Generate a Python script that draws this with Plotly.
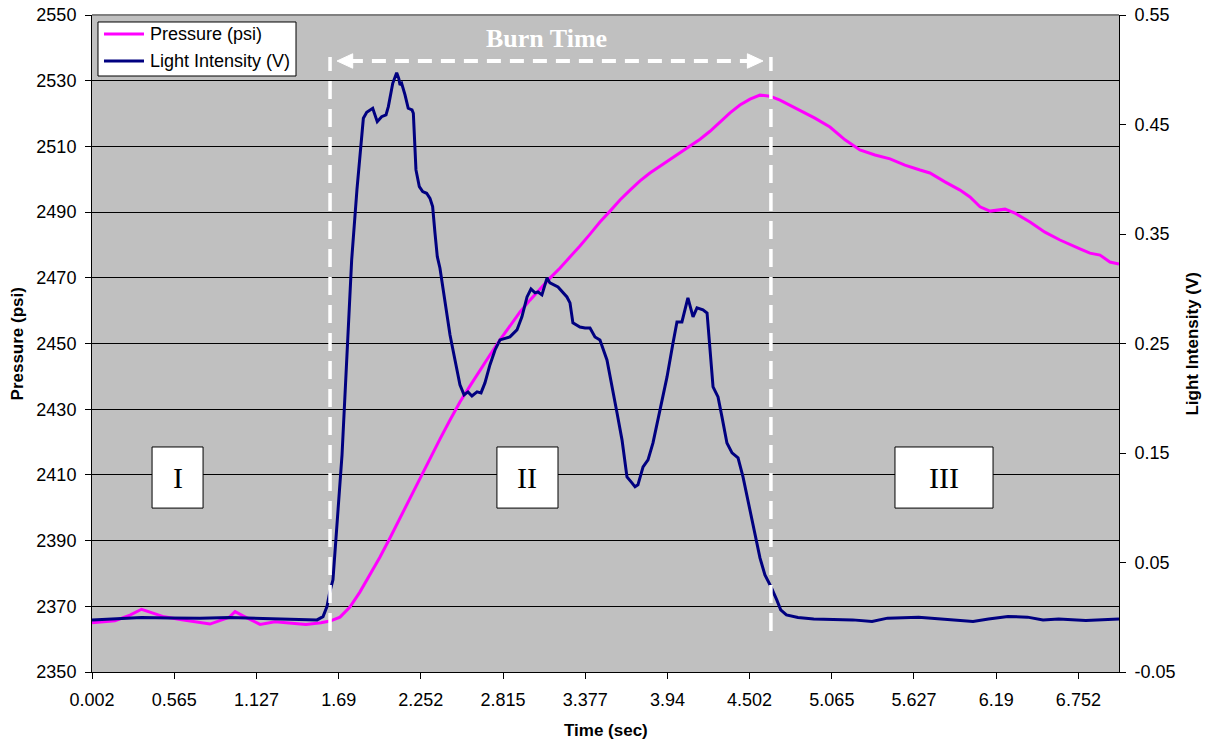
import plotly.graph_objects as go

# ---- chamber pressure (left axis, psi) ----
time_p = [0.002, 0.159, 0.262, 0.341, 0.419, 0.495, 0.628, 0.809, 0.943, 0.981,
          1.049, 1.152, 1.254, 1.361, 1.466, 1.569, 1.631, 1.699, 1.767, 1.836,
          1.904, 1.973, 2.041, 2.110, 2.178, 2.246, 2.315, 2.383, 2.452, 2.520,
          2.589, 2.657, 2.725, 2.794, 2.862, 2.931, 2.999, 3.068, 3.136, 3.205,
          3.273, 3.341, 3.410, 3.478, 3.547, 3.615, 3.684, 3.752, 3.820, 3.889,
          3.957, 4.026, 4.094, 4.163, 4.231, 4.299, 4.368, 4.436, 4.505, 4.573,
          4.642, 4.710, 4.778, 4.847, 4.949, 5.052, 5.155, 5.257, 5.360, 5.463,
          5.565, 5.668, 5.736, 5.839, 5.942, 6.010, 6.079, 6.147, 6.250, 6.318,
          6.421, 6.523, 6.626, 6.763, 6.831, 6.900, 6.968, 7.030]
pressure = [2365.0, 2365.6, 2367.3, 2369.1, 2367.9, 2366.8, 2365.8, 2364.6, 2366.7, 2368.4,
            2366.8, 2364.5, 2365.3, 2364.8, 2364.5, 2365.0, 2365.5, 2366.7, 2369.8, 2374.4,
            2379.5, 2385.0, 2390.8, 2396.9, 2403.0, 2409.1, 2415.1, 2420.9, 2426.7, 2432.2,
            2437.1, 2441.9, 2446.5, 2451.1, 2455.3, 2459.6, 2463.2, 2466.6, 2469.9, 2473.0,
            2476.3, 2479.7, 2483.3, 2487.0, 2490.3, 2493.7, 2496.7, 2499.5, 2501.9, 2504.0,
            2505.9, 2508.0, 2510.1, 2512.2, 2514.6, 2517.4, 2520.2, 2522.6, 2524.4, 2525.6,
            2525.3, 2524.1, 2522.6, 2521.1, 2518.6, 2515.9, 2512.0, 2508.9, 2507.4, 2506.2,
            2504.3, 2502.8, 2501.9, 2499.2, 2496.7, 2494.6, 2491.6, 2490.3, 2490.9, 2489.7,
            2487.0, 2483.9, 2481.5, 2478.8, 2477.5, 2476.9, 2474.8, 2474.2]

# ---- photodiode light intensity (right axis, V) ----
time_l = [0.002, 0.194, 0.341, 0.536, 0.741, 0.943, 1.083, 1.179, 1.357, 1.542,
          1.583, 1.610, 1.628, 1.651, 1.713, 1.779, 1.815, 1.859, 1.882, 1.923,
          1.954, 1.984, 2.014, 2.030, 2.060, 2.087, 2.101, 2.110, 2.121, 2.144,
          2.166, 2.192, 2.201, 2.219, 2.242, 2.265, 2.292, 2.315, 2.333, 2.349,
          2.365, 2.383, 2.418, 2.452, 2.486, 2.520, 2.548, 2.575, 2.602, 2.637,
          2.664, 2.691, 2.725, 2.760, 2.794, 2.862, 2.910, 2.944, 2.979, 3.006,
          3.034, 3.054, 3.081, 3.116, 3.136, 3.191, 3.252, 3.273, 3.293, 3.341,
          3.376, 3.410, 3.444, 3.478, 3.526, 3.567, 3.595, 3.629, 3.663, 3.697,
          3.718, 3.738, 3.773, 3.807, 3.841, 3.889, 3.937, 3.978, 4.005, 4.039,
          4.060, 4.080, 4.115, 4.142, 4.183, 4.211, 4.252, 4.286, 4.313, 4.347,
          4.382, 4.423, 4.457, 4.491, 4.518, 4.546, 4.573, 4.607, 4.648, 4.688,
          4.715, 4.754, 4.833, 4.941, 5.127, 5.207, 5.340, 5.446, 5.659, 5.819,
          6.031, 6.137, 6.270, 6.404, 6.510, 6.617, 6.803, 7.030]
light = [-0.0024, -0.0015, -0.0003, -0.0006, -0.0010, -0.0003, -0.0010, -0.0017, -0.0019, -0.0024,
         0.0006, 0.0098, 0.0223, 0.0342, 0.1483, 0.3263, 0.3902, 0.4557, 0.4612, 0.4648,
         0.4526, 0.4571, 0.4587, 0.4663, 0.4876, 0.4973, 0.4922, 0.4861, 0.4876, 0.4770,
         0.4648, 0.4633, 0.4603, 0.4085, 0.3932, 0.3887, 0.3872, 0.3826, 0.3750, 0.3510,
         0.3293, 0.3190, 0.2898, 0.2578, 0.2350, 0.2122, 0.2031, 0.2058, 0.2021, 0.2058,
         0.2049, 0.2140, 0.2304, 0.2441, 0.2533, 0.2560, 0.2624, 0.2743, 0.2925, 0.2998,
         0.2962, 0.2971, 0.2944, 0.3099, 0.3053, 0.3017, 0.2925, 0.2871, 0.2688, 0.2651,
         0.2642, 0.2642, 0.2560, 0.2533, 0.2350, 0.2076, 0.1866, 0.1620, 0.1282, 0.1227,
         0.1191, 0.1209, 0.1373, 0.1437, 0.1592, 0.1894, 0.2195, 0.2505, 0.2697, 0.2697,
         0.2807, 0.2916, 0.2743, 0.2825, 0.2807, 0.2779, 0.2104, 0.2012, 0.1830, 0.1592,
         0.1501, 0.1455, 0.1282, 0.1072, 0.0889, 0.0707, 0.0542, 0.0387, 0.0280, 0.0159,
         0.0068, 0.0022, -0.0003, -0.0015, -0.0017, -0.0024, -0.0039, -0.0008, 0.0001, -0.0015,
         -0.0039, -0.0017, 0.0006, 0.0001, -0.0024, -0.0017, -0.0030, -0.0017]

# ---- axes ----
x_tick_labels = ["0.002", "0.565", "1.127", "1.69", "2.252", "2.815", "3.377",
                 "3.94", "4.502", "5.065", "5.627", "6.19", "6.752"]
p_ticks = [2350, 2370, 2390, 2410, 2430, 2450, 2470, 2490, 2510, 2530, 2550]
v_ticks = [-0.05, 0.05, 0.15, 0.25, 0.35, 0.45, 0.55]
v_tick_labels = ["-0.05", "0.05", "0.15", "0.25", "0.35", "0.45", "0.55"]

# ---- burn window and phase labels ----
burn_start, burn_end = 1.631, 4.648
phases = [("I", 0.413, 0.762), ("II", 2.773, 3.191), ("III", 5.497, 6.168)]

SANS = "Liberation Sans, Arial, sans-serif"
SERIF = "Liberation Serif, Times New Roman, serif"
P_COLOR = "#FF00FF"
L_COLOR = "#000080"

fig = go.Figure()
fig.add_trace(go.Scatter(x=time_p, y=pressure, name="Pressure (psi)", mode="lines",
                         line=dict(color=P_COLOR, width=3), showlegend=False))
fig.add_trace(go.Scatter(x=time_l, y=light, name="Light Intensity (V)", mode="lines",
                         line=dict(color=L_COLOR, width=3), yaxis="y2",
                         showlegend=False))

fig.update_layout(
    width=1208, height=743,
    margin=dict(l=92, r=89, t=15, b=71, autoexpand=False),
    paper_bgcolor="white", plot_bgcolor="#C0C0C0",
    font=dict(family=SANS, size=18, color="black"),
    xaxis=dict(range=[0.002, 7.03], tickvals=[float(s) for s in x_tick_labels],
               ticktext=x_tick_labels, ticks="outside", ticklen=6, tickcolor="black",
               showline=True, linecolor="black", linewidth=1, showgrid=False,
               zeroline=False, ticklabelstandoff=5),
    yaxis=dict(range=[2350, 2550], tickvals=p_ticks, ticks="outside", ticklen=6,
               tickcolor="black", showline=True, linecolor="black", linewidth=1,
               showgrid=True, gridcolor="black", gridwidth=1, zeroline=False,
               ticklabelstandoff=5),
    yaxis2=dict(range=[-0.05, 0.55], tickvals=v_ticks, ticktext=v_tick_labels,
                overlaying="y", side="right", ticks="outside", ticklen=6,
                tickcolor="black", showline=True, linecolor="black", linewidth=1,
                showgrid=False, zeroline=False, ticklabelstandoff=5),
)

shapes = [
    # top frame edge
    dict(type="line", xref="paper", yref="paper", x0=0, x1=1, y0=1, y1=1,
         line=dict(color="#808080", width=2), layer="above"),
    # burn start / end markers
    dict(type="line", x0=burn_start, x1=burn_start, y0=2362.5, y1=2537.2,
         line=dict(color="white", width=3.5, dash="18px,10px"), layer="above"),
    dict(type="line", x0=burn_end, x1=burn_end, y0=2362.5, y1=2537.2,
         line=dict(color="white", width=3.5, dash="18px,10px"), layer="above"),
    # burn time double arrow
    dict(type="line", x0=1.76, x1=4.51, y0=2536.0, y1=2536.0,
         line=dict(color="white", width=4, dash="14px,9px"), layer="above"),
    dict(type="path", path="M 1.679 2536.0 L 1.786 2538.2 L 1.786 2533.8 Z",
         fillcolor="white", line=dict(color="white", width=1), layer="above"),
    dict(type="path", path="M 4.594 2536.0 L 4.487 2538.2 L 4.487 2533.8 Z",
         fillcolor="white", line=dict(color="white", width=1), layer="above"),
    # legend frame and keys
    dict(type="rect", xref="paper", yref="paper", x0=0.00584, x1=0.19864,
         y0=0.90715, y1=0.98935, fillcolor="white", line=dict(color="black", width=1),
         layer="above"),
    dict(type="line", xref="paper", yref="paper", x0=0.01168, x1=0.05063,
         y0=0.97108, y1=0.97108, line=dict(color=P_COLOR, width=3), layer="above"),
    dict(type="line", xref="paper", yref="paper", x0=0.01168, x1=0.05063,
         y0=0.92998, y1=0.92998, line=dict(color=L_COLOR, width=3), layer="above"),
]
annotations = [
    dict(text="<b>Burn Time</b>", x=3.109, y=2542.9, xref="x", yref="y",
         xanchor="center", yanchor="middle", showarrow=False,
         font=dict(family=SERIF, size=26, color="white")),
    dict(text="<b>Pressure (psi)</b>", xref="paper", yref="paper", x=-0.0721, y=0.5,
         xanchor="center", yanchor="middle", textangle=-90, showarrow=False,
         font=dict(family=SANS, size=17)),
    dict(text="<b>Light Intensity (V)</b>", xref="paper", yref="paper", x=1.0711, y=0.5,
         xanchor="center", yanchor="middle", textangle=-90, showarrow=False,
         font=dict(family=SANS, size=17)),
    dict(text="<b>Time (sec)</b>", xref="paper", yref="paper", x=0.5, y=-0.0883,
         xanchor="center", yanchor="middle", showarrow=False,
         font=dict(family=SANS, size=17)),
    dict(text="Pressure (psi)", xref="paper", yref="paper", x=0.05453, y=0.97108,
         xanchor="left", yanchor="middle", showarrow=False,
         font=dict(family=SANS, size=18)),
    dict(text="Light Intensity (V)", xref="paper", yref="paper", x=0.05453, y=0.92998,
         xanchor="left", yanchor="middle", showarrow=False,
         font=dict(family=SANS, size=18)),
]
for label, x0, x1 in phases:
    shapes.append(dict(type="rect", x0=x0, x1=x1, y0=2399.9, y1=2418.5,
                       fillcolor="white", line=dict(color="black", width=1),
                       layer="above"))
    annotations.append(dict(text=label, x=(x0 + x1) / 2, y=2409.2, xref="x", yref="y",
                            xanchor="center", yanchor="middle", showarrow=False,
                            font=dict(family=SERIF, size=30, color="black")))

fig.update_layout(shapes=shapes, annotations=annotations)
fig.write_html("out.html")
